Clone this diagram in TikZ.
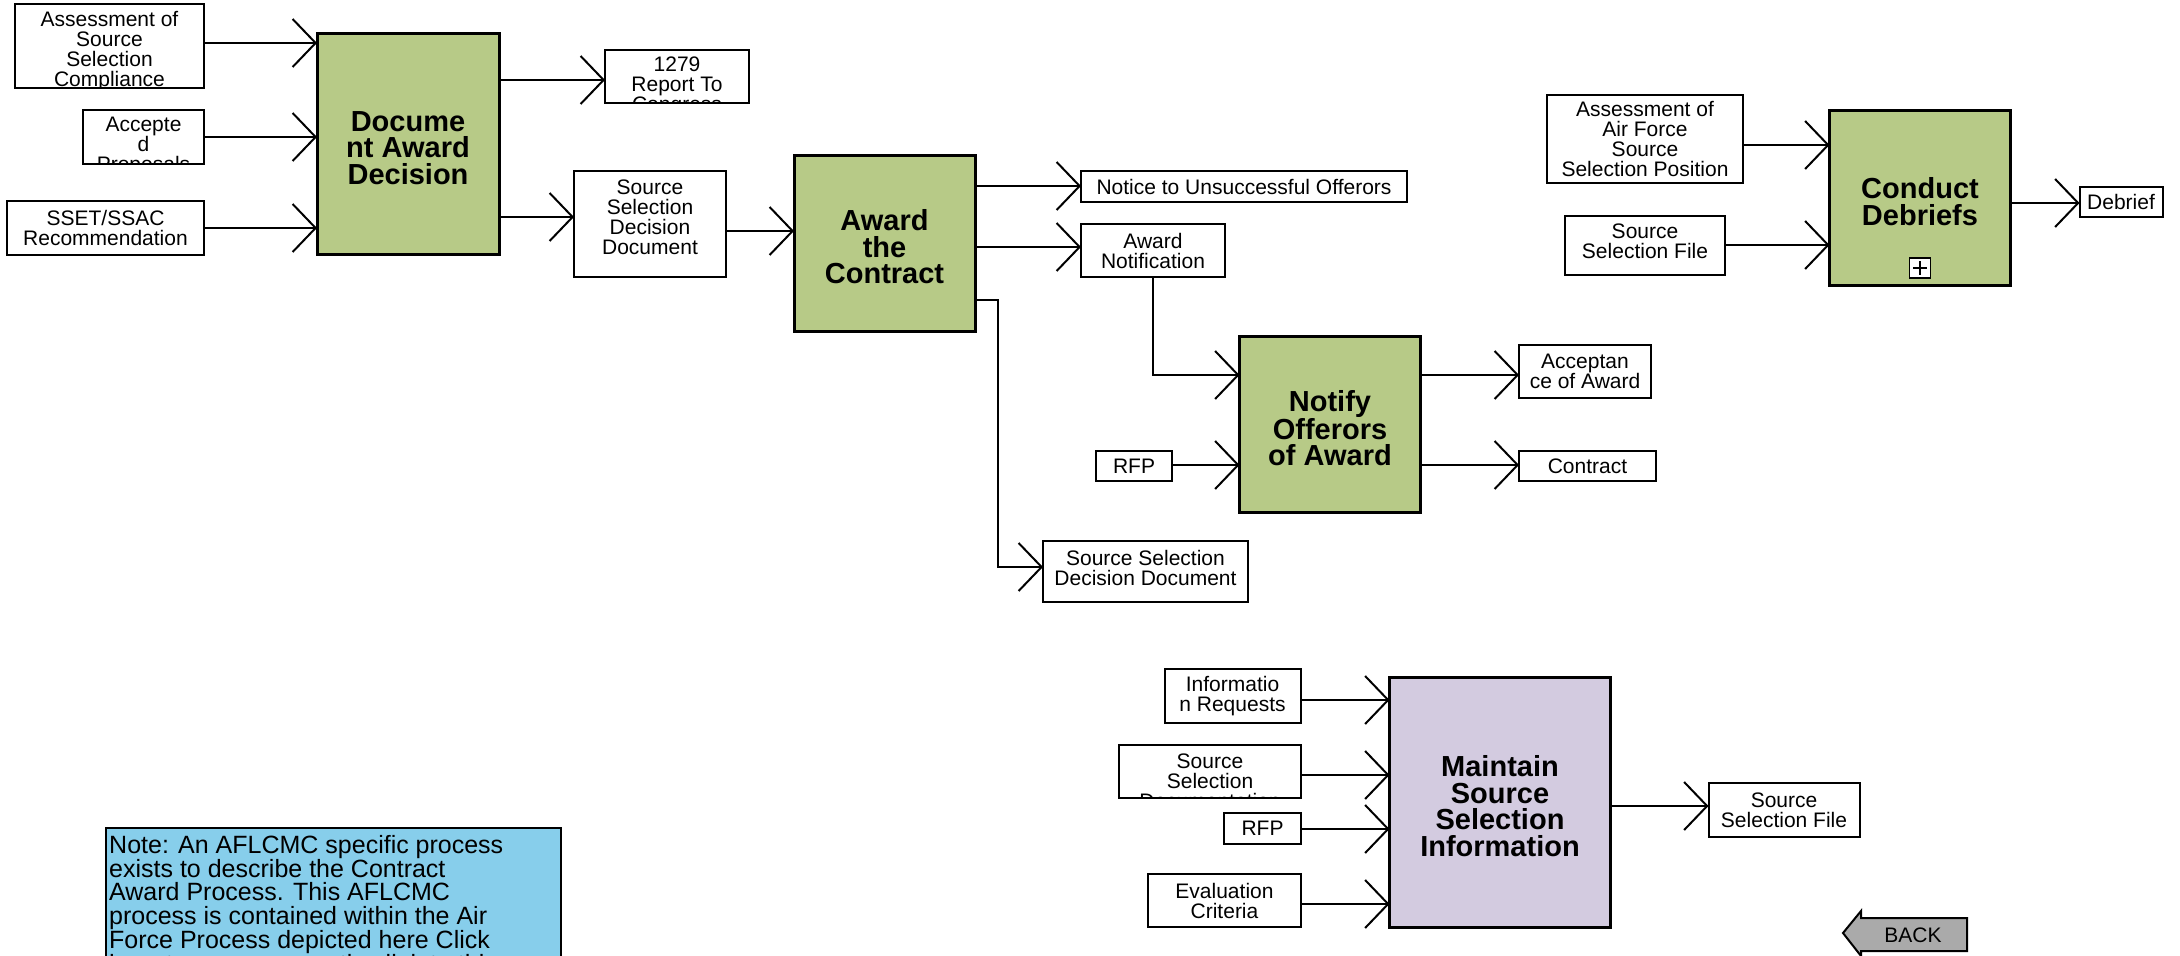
\documentclass[tikz,border=0pt]{standalone}
\usepackage{fontspec}
\setmainfont{Liberation Sans}
\usetikzlibrary{arrows.meta,calc}
\definecolor{pgreen}{HTML}{B7CA87}
\definecolor{plav}{HTML}{D3CBE0}
\definecolor{pnote}{HTML}{87CEEB}
\definecolor{pgray}{HTML}{AAAAAA}
\tikzset{
  dbox/.style={draw, line width=2pt, fill=white, inner sep=0pt, outer sep=0pt},
  proc/.style={draw, line width=3pt, inner sep=0pt, outer sep=0pt},
  ptxt/.style={inner sep=0pt, align=center, font=\fontsize{29}{26.5}\selectfont\bfseries},
  txt/.style={inner sep=0pt, align=center, font=\fontsize{21}{20}\selectfont},
  arr/.style={line width=2pt, -{Straight Barb[length=23pt,width=48pt]}},
}
\newcommand\databox[7]{%
  \node[dbox, minimum width=#4pt, minimum height=#5pt] (#1) at (#2,#3) {};
  \begin{scope}
    \clip (#1.south west) rectangle (#1.north east);
    \node[txt] (#1-t) at ([yshift=#6]#1.center) {#7};
  \end{scope}}
\newcommand\procbox[7]{%
  \node[proc, fill=#6, minimum width=#4pt, minimum height=#5pt] (#1) at (#2,#3) {};
  \node[ptxt] (#1-t) at ([yshift=-4pt]#1.center) {#7};}
\begin{document}
\begin{tikzpicture}[x=1pt,y=-1pt]
\path[use as bounding box] (0,0) rectangle (2180,956);
\clip (0,0) rectangle (2180,956);

% process boxes
\procbox{D}{408}{144}{182}{221}{pgreen}{Docume\\nt Award\\Decision}
\procbox{AC}{884.5}{243}{181}{176}{pgreen}{Award\\the\\Contract}
\procbox{NO}{1330}{424}{181}{176}{pgreen}{Notify\\Offerors\\of Award}
\procbox{CD}{1920}{197.5}{181}{175}{pgreen}{Conduct\\Debriefs}
\procbox{MSSI}{1500}{802}{221}{250}{plav}{Maintain\\Source\\Selection\\Information}

% plus icon
\node[draw, line width=1.5pt, fill=white, minimum width=21pt, minimum height=20pt, inner sep=0pt] (plus) at (1920,268) {};
\draw[line width=1.5pt] ($(plus.center)+(-7,0)$) -- ($(plus.center)+(7,0)$);
\draw[line width=1.5pt] ($(plus.center)+(0,-7)$) -- ($(plus.center)+(0,7)$);

% data boxes
\databox{A1}{109.5}{46}{189}{84}{-5.5pt}{Assessment of\\Source\\Selection\\Compliance}
\databox{A2}{143.5}{137}{121}{54}{-9.5pt}{Accepte\\d\\Proposals}
\databox{A3}{105.5}{228}{197}{54}{0pt}{SSET/SSAC\\Recommendation}
\databox{R1279}{677}{76.5}{144}{53}{-10pt}{1279\\Report To\\Congress}
\databox{SSDD1}{650}{224}{152}{106}{6.5pt}{Source\\Selection\\Decision\\Document}
\databox{Notice}{1244}{186.5}{326}{31}{0pt}{Notice to Unsuccessful Offerors}
\databox{AN}{1153}{250.5}{144}{53}{0pt}{Award\\Notification}
\databox{SSDD2}{1145.5}{571.5}{205}{61}{4pt}{Source Selection\\Decision Document}
\databox{RFP1}{1134}{466}{76}{30}{0pt}{RFP}
\databox{Accept}{1585}{371.5}{132}{53}{0pt}{Acceptan\\ce of Award}
\databox{Contract}{1587.5}{466}{137}{30}{0pt}{Contract}
\databox{AFSSP}{1645}{139}{196}{88}{0pt}{Assessment of\\Air Force\\Source\\Selection Position}
\databox{SSF1}{1645}{245.5}{160}{59}{4.5pt}{Source\\Selection File}
\databox{Debrief}{2121}{202}{83}{30}{0pt}{Debrief}
\databox{IR}{1232.5}{696}{136}{54}{0pt}{Informatio\\n Requests}
\databox{SSDoc}{1210}{771.5}{182}{53}{-9.5pt}{Source\\Selection\\Documentation}
\databox{RFP2}{1262.5}{828.5}{77}{31}{0pt}{RFP}
\databox{EC}{1224.5}{900.5}{153}{53}{0pt}{Evaluation\\Criteria}
\databox{SSF2}{1784}{810}{151}{54}{0pt}{Source\\Selection File}

% connectors
\draw[arr] (A1.east |- 0,43) -- (D.west |- 0,43);
\draw[arr] (A2.east |- 0,137) -- (D.west |- 0,137);
\draw[arr] (A3.east |- 0,228) -- (D.west |- 0,228);
\draw[arr] (D.east |- 0,80) -- (R1279.west |- 0,80);
\draw[arr] (D.east |- 0,217) -- (SSDD1.west |- 0,217);
\draw[arr] (SSDD1.east |- 0,231) -- (AC.west |- 0,231);
\draw[arr] (AC.east |- 0,186) -- (Notice.west |- 0,186);
\draw[arr] (AC.east |- 0,247) -- (AN.west |- 0,247);
\draw[arr] (AC.east |- 0,300) -- ++(23,0) |- (SSDD2.west |- 0,567);
\draw[arr] (AN.south) |- (NO.west |- 0,375);
\draw[arr] (RFP1.east |- 0,465) -- (NO.west |- 0,465);
\draw[arr] (NO.east |- 0,375) -- (Accept.west |- 0,375);
\draw[arr] (NO.east |- 0,465) -- (Contract.west |- 0,465);
\draw[arr] (AFSSP.east |- 0,145) -- (CD.west |- 0,145);
\draw[arr] (SSF1.east |- 0,245) -- (CD.west |- 0,245);
\draw[arr] (CD.east |- 0,203) -- (Debrief.west |- 0,203);
\draw[arr] (IR.east |- 0,700) -- (MSSI.west |- 0,700);
\draw[arr] (SSDoc.east |- 0,775) -- (MSSI.west |- 0,775);
\draw[arr] (RFP2.east |- 0,829) -- (MSSI.west |- 0,829);
\draw[arr] (EC.east |- 0,904) -- (MSSI.west |- 0,904);
\draw[arr] (MSSI.east |- 0,806) -- (SSF2.west |- 0,806);

% note
\node[draw, line width=2pt, fill=pnote, inner sep=0pt, outer sep=0pt, anchor=north west,
  minimum width=455pt, minimum height=180pt] (note) at (106,828) {};
\node[inner sep=0pt, anchor=north west, align=left, font=\fontsize{25}{23.3}\selectfont] (notetext) at (109,835)
  {Note: An AFLCMC specific process\\exists to describe the Contract\\Award Process. This AFLCMC\\process is contained within the Air\\Force Process depicted here Click\\here to access an active link to this};

% back button
\draw[line width=2pt, fill=pgray, line join=miter] (1843,933) -- (1861,911) -- (1861,918) -- (1967,918) -- (1967,951) -- (1861,951) -- (1861,956) -- cycle;
\node[txt] (back) at (1913,935) {BACK};
\end{tikzpicture}
\end{document}
